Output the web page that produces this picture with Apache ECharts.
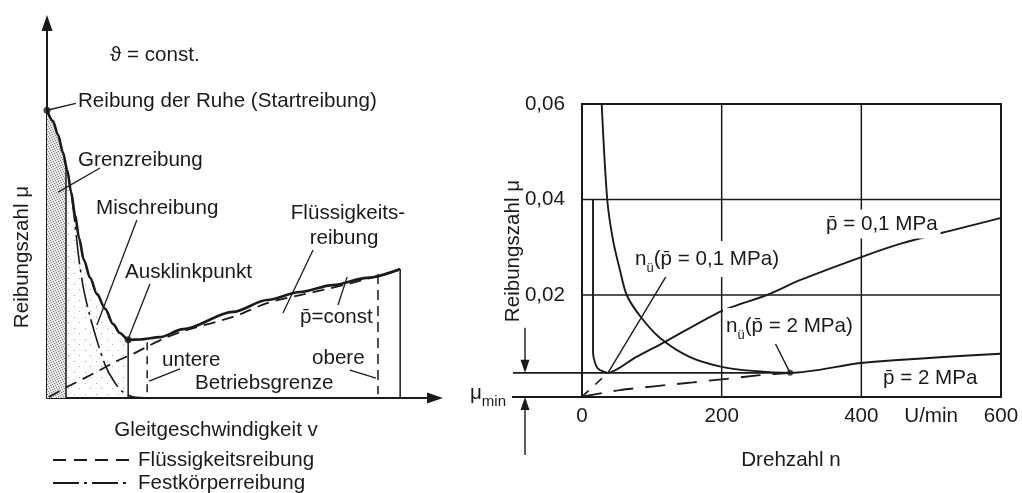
<!DOCTYPE html>
<html><head><meta charset="utf-8">
<script src="https://cdn.jsdelivr.net/npm/echarts@6/dist/echarts.min.js"></script>
<style>html,body{margin:0;padding:0;background:#fff}#c{width:1022px;height:493px}</style>
</head><body><div id="c"></div><script>
// ---------- left: Stribeck curve, schematic units (v, mu) ----------
const stribeckV  = [0, 1.5, 2.8, 4.0, 5.1, 6.1, 7.1, 8.1, 9.3, 10.9, 12.6, 14.7, 16.7, 18.4, 20.5, 23.5, 28.5, 34.4, 47.0, 55.6, 63.9, 72.2, 80.8, 89.2];
const stribeckMu = [75.2, 72.4, 68.7, 64.3, 59.6, 53.8, 47.8, 41.8, 36.1, 31.4, 27.2, 23.3, 19.3, 17.0, 15.2, 15.3, 15.9, 18.0, 22.5, 25.6, 27.7, 29.5, 31.4, 33.7];
// fluid friction share (dashed)
const fluidV  = [0.5, 5.1, 9.1, 13.4, 17.7, 21.7, 26.0, 30.3, 35.4, 47.0, 55.6, 63.9, 71.7, 80.8, 89.2];
const fluidMu = [0.3, 2.9, 5.0, 7.3, 9.7, 11.5, 13.8, 15.9, 17.8, 21.2, 24.8, 26.9, 28.7, 31.1, 33.5];
// solid-body friction share (dash-dot)
const solidV  = [6.1, 7.1, 8.1, 9.3, 10.9, 12.6, 14.7, 16.7, 18.9, 21.7, 26.0];
const solidMu = [53.8, 45.2, 36.0, 28.2, 21.2, 15.1, 8.6, 4.7, 1.8, 0.3, 0];
// regime boundaries on the v axis
const grenzV = 4.8, ausklinkV = 20.5, endV = 89.2;
const untereV = 25.3, obereV = 83.6;
const untereSpan = [14.6, 1.0], obereSpan = [32.4, 1.0];
// leader lines [from, to]
const leftLeaders = [
  [[7.3, 77.0], [0, 75.2]],
  [[13.4, 60.1], [2.8, 53.8]],
  [[22.7, 46.5], [12.6, 19.1]],
  [[67.2, 38.7], [59.6, 22.2]],
  [[26.0, 29.8], [20.5, 15.4]],
  [[73.5, 24.3], [75.8, 31.6]],
  [[25.8, 4.4], [33.6, 7.6]],
  [[76.5, 7.3], [83.1, 5.2]]
];

// ---------- right: friction coefficient vs. speed ----------
const lowN   = [15.8, 15.8, 18.6, 22.9, 30.1, 37.2, 77.3, 118.9, 200.5, 265, 312, 401, 460, 531, 599];
const lowMu  = [0.040, 0.0079, 0.0058, 0.0046, 0.0040, 0.0037, 0.0070, 0.0102, 0.0167, 0.0200, 0.0231, 0.0280, 0.0309, 0.0336, 0.0361];
const highN  = [28.2, 36.2, 44.4, 54.4, 64.0, 83.1, 111.7, 154.7, 201.9, 245, 298, 403, 599];
const highMu = [0.0600, 0.0399, 0.0315, 0.0252, 0.0200, 0.0156, 0.0110, 0.0070, 0.0049, 0.0041, 0.0037, 0.0058, 0.0077];
const lowFluidN  = [0, 37.2];
const lowFluidMu = [-0.0013, 0.0037];
const highFluidN  = [0, 54.4, 159, 255, 298];
const highFluidMu = [-0.0013, 0.0001, 0.0017, 0.0032, 0.0037];
const muMin = 0.0037;
const muFloor = -0.00136;
const nTransHigh = 298;
const rightLeaders = [
  [[123.2, 0.0246], [37.2, 0.0037]],
  [[272.1, 0.0112], [298, 0.0037]]
];
const xTickValues = [0, 200, 400, 500, 600];
const xTickTexts  = ['0', '200', '400', 'U/min', '600'];
const yTickValues = [0.02, 0.04, 0.06];
const yTickTexts  = ['0,02', '0,04', '0,06'];
const gridN  = [200, 400];
const gridMu = [0.02, 0.04];
const nRange = [0, 600];
const muTop = 0.06;

const FONT = '"Liberation Sans", Arial, Helvetica, sans-serif';
const FS = 20.6;
const INK = '#1a1a1a';

const pairs = (xs, ys) => xs.map((x, i) => [x, ys[i]]);
function valueAt(xs, ys, x) {
  for (let i = 1; i < xs.length; i++) {
    if (xs[i] >= x) { const t = (x - xs[i - 1]) / (xs[i] - xs[i - 1]); return ys[i - 1] + t * (ys[i] - ys[i - 1]); }
  }
  return ys[ys.length - 1];
}
function slice(xs, ys, a, b) {
  const out = [[a, valueAt(xs, ys, a)]];
  xs.forEach((x, i) => { if (x > a && x < b) out.push([x, ys[i]]); });
  out.push([b, valueAt(xs, ys, b)]);
  return out;
}
function stipple(size, bg, dots, color) {
  const c = document.createElement('canvas'); c.width = c.height = size;
  const g = c.getContext('2d');
  if (bg) { g.fillStyle = bg; g.fillRect(0, 0, size, size); }
  g.fillStyle = color;
  dots.forEach(([x, y]) => g.fillRect(x, y, 1, 1));
  return c;
}
const dense  = stipple(5, '#e6e6e6', [[0, 0], [3, 1], [1, 2], [4, 3], [2, 4]], '#7a7a7a');
const sparse = stipple(11, null, [[2, 3], [8, 9]], '#a8a8a8');

const lineS = (data, extra) => Object.assign({
  type: 'line', data, symbol: 'none', silent: true,
  lineStyle: { color: INK, width: 1.6 }
}, extra);
const R = { xAxisIndex: 1, yAxisIndex: 1 };

const series = [
  // left grid
  lineS(slice(stribeckV, stribeckMu, 0, grenzV), { smooth: 0.3, lineStyle: { width: 0 }, areaStyle: { color: { image: dense, repeat: 'repeat' }, opacity: 1 }, z: 1 }),
  lineS(slice(stribeckV, stribeckMu, grenzV, ausklinkV), { smooth: 0.3, lineStyle: { width: 0 }, areaStyle: { color: { image: sparse, repeat: 'repeat' }, opacity: 1 }, z: 1 }),
  lineS(pairs(fluidV, fluidMu), { smooth: 0.3, lineStyle: { color: INK, width: 1.8, type: [12, 7] } }),
  lineS(pairs(solidV, solidMu), { smooth: 0.3, lineStyle: { color: INK, width: 1.6, type: [30, 5, 3, 5] } }),
  lineS(pairs(stribeckV, stribeckMu), { smooth: 0.3, smoothMonotone: 'x', lineStyle: { color: INK, width: 2.6 }, z: 5 }),
  ...[grenzV, ausklinkV, endV].map(v => lineS([[v, valueAt(stribeckV, stribeckMu, v)], [v, 0]], { lineStyle: { color: INK, width: 1.5 } })),
  lineS([[untereV, untereSpan[0]], [untereV, untereSpan[1]]], { lineStyle: { color: INK, width: 1.5, type: [8, 6] } }),
  lineS([[obereV, obereSpan[0]], [obereV, obereSpan[1]]], { lineStyle: { color: INK, width: 1.5, type: [10, 6] } }),
  ...leftLeaders.map(l => lineS(l, { lineStyle: { color: INK, width: 1.3 } })),
  { type: 'scatter', silent: true, symbolSize: 7, itemStyle: { color: INK },
    data: [[stribeckV[0], stribeckMu[0]], [ausklinkV, valueAt(stribeckV, stribeckMu, ausklinkV)]], z: 6 },
  // right grid: reference lines
  ...gridMu.map(m => lineS([[nRange[0], m], [nRange[1], m]], Object.assign({ lineStyle: { color: INK, width: 1.5 }, z: 1 }, R))),
  ...gridN.map(n => lineS([[n, muFloor], [n, muTop]], Object.assign({ lineStyle: { color: INK, width: 1.5 }, z: 1 }, R))),
  lineS([[nRange[0], muMin], [nTransHigh, muMin]], Object.assign({ lineStyle: { color: INK, width: 1.8 }, z: 1 }, R)),
  // right grid: curves
  lineS(pairs(highN, highMu), Object.assign({ smooth: 0.3, lineStyle: { color: INK, width: 1.9 } }, R)),
  lineS(pairs(lowN, lowMu), Object.assign({ smooth: 0.25, lineStyle: { color: INK, width: 1.9 } }, R)),
  lineS(pairs(lowFluidN, lowFluidMu), Object.assign({ lineStyle: { color: INK, width: 1.6, type: [9, 9] } }, R)),
  lineS(pairs(highFluidN, highFluidMu), Object.assign({ smooth: 0.2, lineStyle: { color: INK, width: 1.8, type: [20, 12] } }, R)),
  ...rightLeaders.map(l => lineS(l, Object.assign({ lineStyle: { color: INK, width: 1.4 } }, R))),
  Object.assign({ type: 'scatter', silent: true, symbolSize: 6, itemStyle: { color: INK }, data: [[nTransHigh, muMin]], z: 6 }, R)
];

const chart = echarts.init(document.getElementById('c'), null, { renderer: 'canvas' });
chart.setOption({
  animation: false,
  backgroundColor: '#fff',
  grid: [
    { left: 47, right: 587, top: 23, bottom: 95 },
    { left: 582, right: 21, top: 104, bottom: 96, show: true, borderColor: INK, borderWidth: 2, backgroundColor: 'transparent' }
  ],
  xAxis: [
    { gridIndex: 0, type: 'value', min: 0, max: 98,
      axisLine: { show: true, onZero: false, symbol: ['none', 'triangle'], symbolSize: [11, 16], lineStyle: { color: INK, width: 2 } },
      axisTick: { show: false }, axisLabel: { show: false }, splitLine: { show: false } },
    { gridIndex: 1, type: 'value', min: nRange[0], max: nRange[1],
      axisLine: { show: false }, axisTick: { show: false }, splitLine: { show: false },
      axisLabel: { customValues: xTickValues, margin: 9, color: INK, fontSize: FS, fontFamily: FONT,
        formatter: v => xTickTexts[xTickValues.indexOf(v)] ?? '' } }
  ],
  yAxis: [
    { gridIndex: 0, type: 'value', min: 0, max: 98,
      axisLine: { show: true, onZero: false, symbol: ['none', 'triangle'], symbolSize: [11, 16], lineStyle: { color: INK, width: 2 } },
      axisTick: { show: false }, axisLabel: { show: false }, splitLine: { show: false } },
    { gridIndex: 1, type: 'value', min: muFloor, max: muTop,
      axisLine: { show: false }, axisTick: { show: false }, splitLine: { show: false },
      axisLabel: { customValues: yTickValues, margin: 17, color: INK, fontSize: FS, fontFamily: FONT,
        formatter: v => yTickTexts[yTickValues.indexOf(v)] ?? '' } }
  ],
  series
});

// annotations
const txt = (x, y, text, extra = {}) => ({
  type: 'text', x, y, z: 50, silent: true,
  style: Object.assign({ text, font: `${FS}px ${FONT}`, fill: INK, align: 'left', verticalAlign: 'middle' }, extra)
});
const sub = (main, s, rest, subSize) => ({
  text: `{m|${main}}{s|${s}}{m|${rest}}`,
  rich: { m: { fontSize: FS, fontFamily: FONT, lineHeight: 32, fill: INK }, s: { fontSize: subSize, fontFamily: FONT, lineHeight: subSize, verticalAlign: 'bottom', fill: INK } }
});
const yMin = chart.convertToPixel({ gridIndex: 1 }, [0, muMin])[1];
const yBase = chart.convertToPixel({ gridIndex: 1 }, [0, muFloor])[1];
const xArrow = 525;
const line = (x1, y1, x2, y2, w, dash) => ({ type: 'line', z: 40, silent: true, shape: { x1, y1, x2, y2 }, style: { stroke: INK, lineWidth: w, lineDash: dash || null } });
const head = (x, tipY, dir) => ({ type: 'polygon', z: 40, silent: true, shape: { points: [[x, tipY], [x - 4.5, tipY - dir * 13], [x + 4.5, tipY - dir * 13]] }, style: { fill: INK } });

chart.setOption({
  graphic: [
    // left
    txt(110, 55, 'ϑ = const.'),
    txt(78, 101, 'Reibung der Ruhe (Startreibung)'),
    txt(78, 160, 'Grenzreibung'),
    txt(96, 208, 'Mischreibung'),
    txt(348, 213, 'Flüssigkeits-', { align: 'center' }),
    txt(344, 238, 'reibung', { align: 'center' }),
    txt(125, 272, 'Ausklinkpunkt'),
    txt(300, 317, 'p\u0304=const'),
    txt(162, 360, 'untere'),
    txt(312, 358, 'obere'),
    txt(195, 383, 'Betriebsgrenze'),
    txt(216, 430, 'Gleitgeschwindigkeit v', { align: 'center' }),
    { type: 'text', x: 22, y: 257, rotation: Math.PI / 2, z: 50, silent: true,
      style: { text: 'Reibungszahl μ', font: `${FS}px ${FONT}`, fill: INK, align: 'center', verticalAlign: 'middle' } },
    line(53, 460, 130, 460, 2, [13, 8]),
    txt(138, 460, 'Flüssigkeitsreibung'),
    line(53, 483, 130, 483, 2, [26, 5, 3, 5]),
    txt(138, 483, 'Festkörperreibung'),
    // right
    txt(632, 259, '', Object.assign(sub('n', 'ü', '(p\u0304 = 0,1 MPa)', 13), { backgroundColor: '#fff', padding: [2, 3] })),
    txt(723, 326, '', Object.assign(sub('n', 'ü', '(p\u0304 = 2 MPa)', 13), { backgroundColor: '#fff', padding: [2, 3] })),
    txt(823, 224, 'p\u0304 = 0,1 MPa', { backgroundColor: '#fff', padding: [4, 3] }),
    txt(883, 378, 'p\u0304 = 2 MPa'),
    txt(791, 460, 'Drehzahl n', { align: 'center' }),
    { type: 'text', x: 513, y: 251, rotation: Math.PI / 2, z: 50, silent: true,
      style: { text: 'Reibungszahl μ', font: `${FS}px ${FONT}`, fill: INK, align: 'center', verticalAlign: 'middle' } },
    txt(506, yBase - 4, '', Object.assign(sub('μ', 'min', '', 15), { align: 'right' })),
    line(513, yMin, 582, yMin, 1.8),
    line(512, yBase, 582, yBase, 1.8),
    line(xArrow, yMin - 45, xArrow, yMin - 10, 1.4),
    head(xArrow, yMin, 1),
    line(xArrow, yBase + 10, xArrow, yBase + 58, 1.4),
    head(xArrow, yBase, -1)
  ]
});
</script></body></html>
